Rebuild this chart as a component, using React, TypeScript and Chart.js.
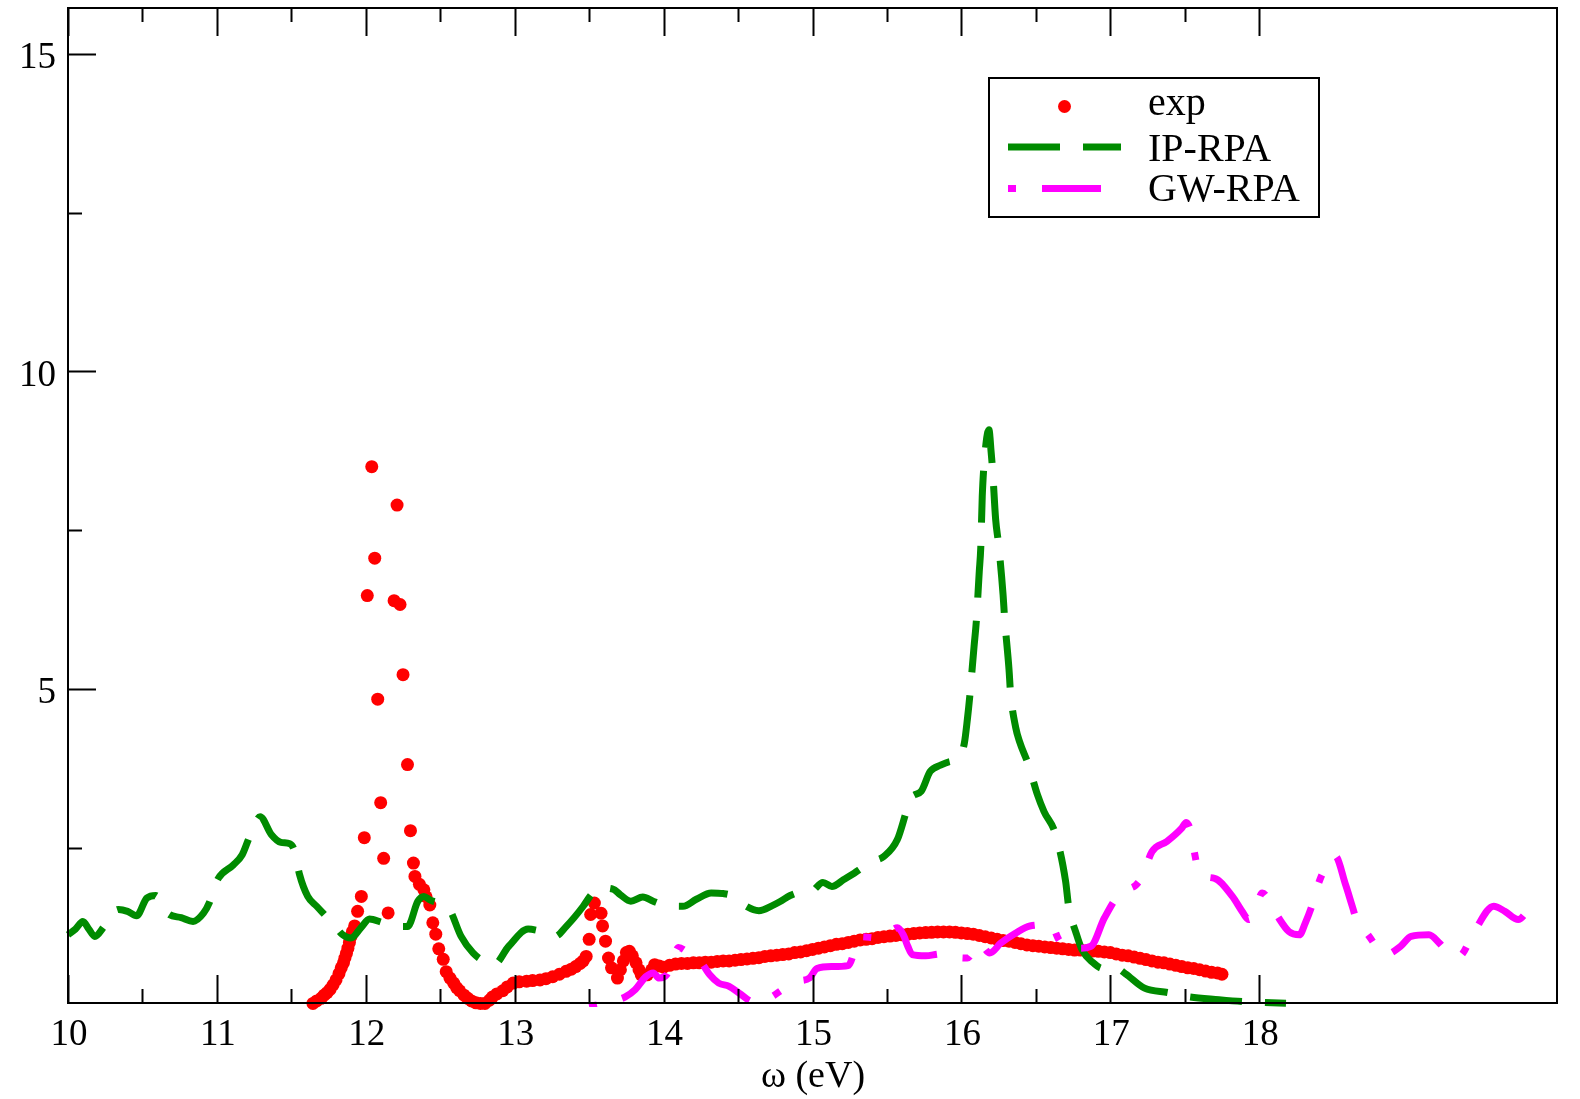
import React, { useEffect, useRef } from "react";
import { Chart, registerables } from "chart.js";

Chart.register(...registerables);

// ---- data (x in eV, y) ----
const expPoints: [number, number][] = [
  [11.645, 0.05], [11.67, 0.09], [11.7, 0.13], [11.72, 0.18], [11.74, 0.22], [11.76, 0.27],
  [11.78, 0.34], [11.8, 0.42], [11.82, 0.52], [11.835, 0.61], [11.85, 0.69], [11.86, 0.765],
  [11.87, 0.84], [11.88, 0.92], [11.89, 1.01], [11.9, 1.1], [11.91, 1.18], [11.925, 1.27],
  [11.945, 1.5], [11.97, 1.735], [11.99, 2.66], [12.01, 6.47], [12.04, 8.5], [12.06, 7.06],
  [12.08, 4.84], [12.1, 3.21], [12.12, 2.335], [12.15, 1.475], [12.19, 6.39], [12.21, 7.895],
  [12.23, 6.33], [12.25, 5.225], [12.28, 3.81], [12.3, 2.77], [12.32, 2.26], [12.33, 2.05],
  [12.36, 1.925], [12.39, 1.84], [12.405, 1.73], [12.43, 1.6], [12.45, 1.32], [12.47, 1.14],
  [12.49, 0.91], [12.52, 0.745], [12.54, 0.55], [12.565, 0.45], [12.59, 0.37], [12.61, 0.3],
  [12.63, 0.25], [12.66, 0.18], [12.685, 0.13], [12.71, 0.09], [12.74, 0.06], [12.77, 0.05],
  [12.8, 0.05], [12.83, 0.1], [12.85, 0.15], [12.88, 0.2], [12.92, 0.25], [12.95, 0.31],
  [12.99, 0.37], [13.03, 0.39], [13.08, 0.4], [13.12, 0.41], [13.17, 0.42], [13.21, 0.44],
  [13.255, 0.47], [13.3, 0.51], [13.345, 0.555], [13.38, 0.59], [13.41, 0.63], [13.44, 0.68],
  [13.46, 0.72], [13.48, 0.79], [13.5, 1.06], [13.51, 1.45], [13.535, 1.63], [13.58, 1.47],
  [13.59, 1.27], [13.61, 1.03], [13.63, 0.765], [13.65, 0.61], [13.69, 0.45], [13.71, 0.58],
  [13.73, 0.72], [13.75, 0.85], [13.77, 0.87], [13.79, 0.8], [13.815, 0.69], [13.835, 0.58],
  [13.85, 0.5], [13.89, 0.5], [13.92, 0.58], [13.94, 0.66], [13.97, 0.64], [14.0, 0.62],
  [14.04, 0.65], [14.08, 0.67], [14.12, 0.68], [14.16, 0.68], [14.2, 0.69], [14.24, 0.69],
  [14.28, 0.7], [14.32, 0.7], [14.36, 0.71], [14.4, 0.72], [14.44, 0.72], [14.48, 0.73],
  [14.52, 0.74], [14.56, 0.75], [14.6, 0.76], [14.64, 0.77], [14.68, 0.79], [14.72, 0.8],
  [14.76, 0.81], [14.8, 0.82], [14.84, 0.83], [14.88, 0.85], [14.92, 0.86], [14.96, 0.88],
  [15.0, 0.9], [15.04, 0.92], [15.08, 0.94], [15.12, 0.96], [15.16, 0.98], [15.2, 0.99],
  [15.24, 1.01], [15.28, 1.03], [15.32, 1.05], [15.36, 1.06], [15.4, 1.07], [15.44, 1.09],
  [15.48, 1.1], [15.52, 1.11], [15.56, 1.12], [15.6, 1.13], [15.64, 1.14], [15.68, 1.15],
  [15.72, 1.16], [15.76, 1.165], [15.8, 1.17], [15.84, 1.175], [15.88, 1.175], [15.92, 1.175],
  [15.96, 1.17], [16.0, 1.16], [16.04, 1.15], [16.08, 1.14], [16.12, 1.12], [16.16, 1.1],
  [16.2, 1.08], [16.24, 1.06], [16.28, 1.04], [16.32, 1.03], [16.36, 1.01], [16.4, 0.99],
  [16.44, 0.97], [16.48, 0.96], [16.52, 0.95], [16.56, 0.94], [16.6, 0.93], [16.64, 0.92],
  [16.68, 0.91], [16.72, 0.9], [16.76, 0.89], [16.8, 0.89], [16.84, 0.88], [16.88, 0.875],
  [16.92, 0.87], [16.96, 0.86], [17.0, 0.85], [17.04, 0.83], [17.08, 0.81], [17.12, 0.8],
  [17.16, 0.78], [17.2, 0.76], [17.24, 0.74], [17.28, 0.72], [17.32, 0.7], [17.36, 0.69],
  [17.4, 0.67], [17.44, 0.65], [17.48, 0.63], [17.52, 0.61], [17.56, 0.6], [17.6, 0.58],
  [17.64, 0.56], [17.68, 0.54], [17.72, 0.53], [17.75, 0.51],
];

const ipRpaPoints: [number, number][] = [
  [10.0, 1.13], [10.05, 1.22], [10.1, 1.34], [10.14, 1.22], [10.18, 1.105], [10.235, 1.24],
  [10.29, 1.45], [10.34, 1.53], [10.4, 1.5], [10.46, 1.43], [10.53, 1.71], [10.59, 1.75],
  [10.64, 1.55], [10.68, 1.45], [10.76, 1.4], [10.84, 1.34], [10.91, 1.47], [10.95, 1.64],
  [10.98, 1.85], [11.01, 2.02], [11.11, 2.23], [11.17, 2.39], [11.21, 2.62], [11.25, 2.85],
  [11.29, 2.99], [11.365, 2.71], [11.43, 2.585], [11.49, 2.565], [11.52, 2.46], [11.555, 2.08],
  [11.61, 1.735], [11.67, 1.58], [11.73, 1.43], [11.79, 1.28], [11.845, 1.13], [11.9, 1.08],
  [11.97, 1.25], [12.025, 1.38], [12.11, 1.325], [12.17, 1.29], [12.24, 1.26], [12.28, 1.26],
  [12.35, 1.66], [12.39, 1.735], [12.43, 1.68], [12.5, 1.62], [12.56, 1.54], [12.64, 1.105],
  [12.72, 0.845], [12.79, 0.72], [12.86, 0.66], [12.96, 0.95], [13.09, 1.22], [13.15, 1.2],
  [13.21, 1.16], [13.27, 1.105], [13.345, 1.26], [13.46, 1.58], [13.51, 1.75], [13.56, 1.87],
  [13.66, 1.85], [13.71, 1.76], [13.78, 1.66], [13.86, 1.725], [13.93, 1.66], [14.005, 1.6],
  [14.13, 1.58], [14.22, 1.69], [14.32, 1.79], [14.4, 1.78], [14.47, 1.735], [14.54, 1.6],
  [14.64, 1.51], [14.73, 1.59], [14.78, 1.65], [14.85, 1.75], [14.92, 1.8], [14.99, 1.81],
  [15.07, 1.955], [15.13, 1.89], [15.21, 2.0], [15.28, 2.1], [15.35, 2.21], [15.41, 2.29],
  [15.48, 2.365], [15.57, 2.63], [15.63, 3.07], [15.66, 3.28], [15.73, 3.39], [15.79, 3.7],
  [15.86, 3.8], [15.93, 3.86], [15.98, 3.89], [16.02, 4.15], [16.04, 4.52], [16.056, 4.88],
  [16.085, 5.67], [16.1, 6.06], [16.12, 6.85], [16.13, 7.22], [16.14, 8.03], [16.16, 8.75],
  [16.185, 9.08], [16.2, 8.72], [16.21, 8.43], [16.23, 7.67], [16.25, 7.27], [16.28, 6.48],
  [16.29, 6.12], [16.32, 5.3], [16.33, 4.94], [16.365, 4.39], [16.39, 4.175], [16.45, 3.81],
  [16.51, 3.34], [16.555, 3.07], [16.63, 2.73], [16.7, 1.97], [16.72, 1.58], [16.77, 1.16],
  [16.81, 0.895], [16.88, 0.7], [16.95, 0.6], [17.02, 0.63], [17.1, 0.52], [17.23, 0.29],
  [17.39, 0.22], [17.5, 0.165], [17.73, 0.11], [17.89, 0.08], [18.18, 0.055],
];

const gwRpaPoints: [number, number][] = [
  [13.5, 0.0], [13.56, 0.03], [13.62, 0.06], [13.68, 0.1], [13.74, 0.15], [13.81, 0.27],
  [13.88, 0.47], [13.93, 0.53], [13.97, 0.45], [14.02, 0.5], [14.06, 0.72], [14.1, 0.93],
  [14.16, 0.86], [14.24, 0.74], [14.31, 0.5], [14.37, 0.37], [14.44, 0.32], [14.52, 0.19],
  [14.6, 0.08], [14.67, 0.08], [14.73, 0.16], [14.82, 0.3], [14.91, 0.4], [14.98, 0.45],
  [15.03, 0.6], [15.13, 0.63], [15.24, 0.645], [15.32, 1.1], [15.44, 1.08], [15.51, 1.16],
  [15.57, 1.24], [15.61, 1.13], [15.64, 0.95], [15.67, 0.82], [15.76, 0.8], [15.86, 0.83],
  [15.95, 0.78], [16.04, 0.765], [16.12, 1.0], [16.19, 0.845], [16.265, 1.0], [16.36, 1.15],
  [16.46, 1.27], [16.6, 1.29], [16.655, 1.05], [16.7, 0.92], [16.79, 0.92], [16.87, 0.95],
  [16.96, 1.395], [17.07, 1.8], [17.17, 1.91], [17.215, 2.05], [17.28, 2.44], [17.38, 2.6],
  [17.48, 2.81], [17.51, 2.9], [17.54, 2.76], [17.57, 2.365], [17.595, 2.1], [17.7, 2.02],
  [17.82, 1.735], [17.885, 1.5], [17.93, 1.37], [17.975, 1.525], [18.02, 1.79], [18.11, 1.47],
  [18.2, 1.18], [18.27, 1.13], [18.31, 1.32], [18.36, 1.63], [18.4, 1.95], [18.46, 2.25],
  [18.51, 2.37], [18.58, 1.92], [18.625, 1.58], [18.66, 1.32], [18.72, 1.16], [18.85, 0.82],
  [18.95, 0.95], [19.02, 1.105], [19.14, 1.13], [19.21, 1.0], [19.27, 0.845], [19.34, 0.79],
  [19.45, 1.21], [19.575, 1.58], [19.65, 1.5], [19.74, 1.37], [19.8, 1.5], [19.87, 1.72],
];

const xMajorTicks = [10, 11, 12, 13, 14, 15, 16, 17, 18];
const xMinorTicks = [10.5, 11.5, 12.5, 13.5, 14.5, 15.5, 16.5, 17.5];
const yMajorTicks = [5, 10, 15];
const yMinorTicks = [2.5, 7.5, 12.5];
const xAxisTitle = "ω (eV)";
const legendLabels = ["exp", "IP-RPA", "GW-RPA"];

const RED = "#ff0000";
const GREEN = "#008b00";
const MAGENTA = "#ff00ff";
const FONT = '"Liberation Serif", "Times New Roman", serif';

const framePlugin = {
  id: "xmgraceFrame",
  afterDatasetsDraw(chart: any) {
    const { ctx, chartArea: a, scales } = chart;
    const xs = scales.x;
    const ys = scales.y;
    ctx.save();
    ctx.strokeStyle = "#000";
    ctx.lineWidth = 2;
    ctx.setLineDash([]);
    ctx.strokeRect(a.left, a.top, a.right - a.left, a.bottom - a.top);

    const majorLen = 28;
    const minorLen = 14;
    ctx.beginPath();
    for (const v of xMajorTicks) {
      const px = Math.round(xs.getPixelForValue(v)) + 0.5;
      ctx.moveTo(px, a.bottom); ctx.lineTo(px, a.bottom - majorLen);
      ctx.moveTo(px, a.top); ctx.lineTo(px, a.top + majorLen);
    }
    for (const v of xMinorTicks) {
      const px = Math.round(xs.getPixelForValue(v)) + 0.5;
      ctx.moveTo(px, a.bottom); ctx.lineTo(px, a.bottom - minorLen);
      ctx.moveTo(px, a.top); ctx.lineTo(px, a.top + minorLen);
    }
    for (const v of yMajorTicks) {
      const py = Math.round(ys.getPixelForValue(v)) + 0.5;
      ctx.moveTo(a.left, py); ctx.lineTo(a.left + majorLen, py);
    }
    for (const v of yMinorTicks) {
      const py = Math.round(ys.getPixelForValue(v)) + 0.5;
      ctx.moveTo(a.left, py); ctx.lineTo(a.left + minorLen, py);
    }
    ctx.stroke();

    ctx.fillStyle = "#000";
    ctx.font = `37px ${FONT}`;
    ctx.textBaseline = "alphabetic";
    ctx.textAlign = "center";
    for (const v of xMajorTicks) {
      ctx.fillText(String(v), xs.getPixelForValue(v) + 1, a.bottom + 42);
    }
    ctx.textAlign = "right";
    for (const v of yMajorTicks) {
      ctx.fillText(String(v), 56, ys.getPixelForValue(v) + 14.5);
    }
    ctx.textAlign = "center";
    ctx.font = `38px ${FONT}`;
    ctx.fillText(xAxisTitle, (a.left + a.right) / 2 + 0.5, 1087);

    // legend
    const bx = 989, by = 78, bw = 330, bh = 139;
    ctx.fillStyle = "#fff";
    ctx.fillRect(bx, by, bw, bh);
    ctx.lineWidth = 2;
    ctx.strokeStyle = "#000";
    ctx.strokeRect(bx, by, bw, bh);
    const sx0 = 1008, sx1 = 1121;
    ctx.fillStyle = RED;
    ctx.beginPath();
    ctx.arc((sx0 + sx1) / 2, 106.5, 6.5, 0, Math.PI * 2);
    ctx.fill();
    ctx.lineWidth = 7;
    ctx.lineCap = "butt";
    ctx.strokeStyle = GREEN;
    ctx.setLineDash([52, 23]);
    ctx.beginPath(); ctx.moveTo(sx0, 147); ctx.lineTo(sx1, 147); ctx.stroke();
    ctx.strokeStyle = MAGENTA;
    ctx.setLineDash([8, 26, 59, 26]);
    ctx.beginPath(); ctx.moveTo(sx0, 188.5); ctx.lineTo(sx1, 188.5); ctx.stroke();
    ctx.setLineDash([]);
    ctx.fillStyle = "#000";
    ctx.font = `40px ${FONT}`;
    ctx.textAlign = "left";
    ctx.fillText(legendLabels[0], 1148, 115);
    ctx.fillText(legendLabels[1], 1148, 161);
    ctx.fillText(legendLabels[2], 1148, 201);
    ctx.restore();
  },
};

export default function App() {
  const canvasRef = useRef<HTMLCanvasElement | null>(null);

  useEffect(() => {
    const canvas = canvasRef.current;
    if (!canvas) return;
    const toXY = (pts: [number, number][]) => pts.map(([x, y]) => ({ x, y }));
    const chart = new Chart(canvas, {
      type: "scatter",
      data: {
        datasets: [
          {
            label: legendLabels[2],
            data: toXY(gwRpaPoints),
            showLine: true,
            borderColor: MAGENTA,
            backgroundColor: MAGENTA,
            borderWidth: 7,
            borderDash: [8, 26, 59, 26],
            borderCapStyle: "butt",
            borderJoinStyle: "miter",
            pointRadius: 0,
            cubicInterpolationMode: "monotone",
            order: 1,
            clip: 4,
          } as any,
          {
            label: legendLabels[1],
            data: toXY(ipRpaPoints),
            showLine: true,
            borderColor: GREEN,
            backgroundColor: GREEN,
            borderWidth: 7,
            borderDash: [52, 23],
            borderCapStyle: "butt",
            borderJoinStyle: "miter",
            pointRadius: 0,
            cubicInterpolationMode: "monotone",
            order: 2,
            clip: 4,
          } as any,
          {
            label: legendLabels[0],
            data: toXY(expPoints),
            showLine: false,
            pointRadius: 6.5,
            pointBackgroundColor: RED,
            pointBorderColor: "rgba(0,0,0,0)",
            pointBorderWidth: 0,
            order: 3,
            clip: 10,
          } as any,
        ],
      },
      options: {
        animation: false,
        responsive: false,
        maintainAspectRatio: false,
        devicePixelRatio: 1,
        events: [],
        layout: { padding: { left: 68, right: 23, top: 8, bottom: 96 } },
        scales: {
          x: { type: "linear", min: 10, max: 20, display: false },
          y: { type: "linear", min: 0.057, max: 15.72, display: false },
        },
        plugins: { legend: { display: false }, tooltip: { enabled: false } },
      },
      plugins: [framePlugin],
    });
    return () => chart.destroy();
  }, []);

  return (
    <canvas
      ref={canvasRef}
      width={1580}
      height={1099}
      style={{ position: "fixed", left: 0, top: 0, width: 1580, height: 1099, background: "#fff" }}
    />
  );
}
